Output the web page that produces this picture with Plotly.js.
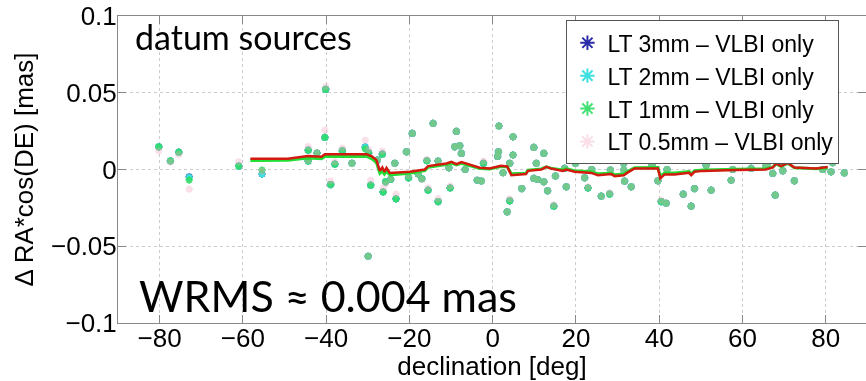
<!DOCTYPE html>
<html>
<head>
<meta charset="utf-8">
<script src="https://cdn.plot.ly/plotly-3.0.1.min.js"></script>
<style>html,body{margin:0;padding:0;background:#fff;overflow:hidden}</style>
</head>
<body>
<div id="chart" style="width:866px;height:381px"></div>
<script>
// declination [deg] of datum sources
const declination = [-80.2,-77.4,-75.4,-72.9,-61.0,-55.4,-44.3,-44.3,-42.2,-40.1,-40.3,-38.9,-37.9,-36.1,-33.8,-30.6,-29.8,-29.3,-29.9,-27.7,-26.5,-26.3,-25.7,-24.5,-23.5,-23.2,-20.7,-20.2,-19.3,-17.9,-17.0,-15.8,-15.5,-14.3,-13.1,-13.1,-10.2,-10.5,-8.7,-9.1,-7.9,-7.5,-6.6,-3.7,-2.7,-2.2,1.5,1.4,1.2,4.9,4.9,4.1,2.5,4.1,3.5,7.0,9.9,10.5,9.9,10.8,12.3,12.3,13.2,14.7,15.1,17.7,17.3,19.9,22.1,22.9,23.8,25.5,26.0,26.1,28.1,28.3,31.5,31.5,31.7,33.3,34.5,35.5,38.3,39.7,40.5,41.7,41.9,45.8,47.4,48.9,48.5,47.7,51.3,52.5,57.3,57.7,62.1,65.6,65.9,67.9,67.3,68.9,69.7,72.5,73.7,79.3,80.7,81.7,81.3,84.5];

// Δ RA*cos(DE) [mas] per solution
const lt3mm = [0.0148,0.0056,0.0113,-0.0048,0.0022,-0.0030,0.0126,0.0055,0.0108,0.0522,0.0209,-0.0098,0.0035,0.0122,0.0040,0.0147,0.0109,-0.0102,-0.0565,0.0061,0.0100,-0.0146,-0.0080,-0.0065,0.0040,-0.0191,0.0115,-0.0054,0.0235,-0.0030,-0.0060,0.0057,-0.0135,0.0300,0.0055,-0.0209,-0.0120,0.0011,0.0248,0.0148,0.0155,0.0105,0.0000,-0.0070,-0.0075,0.0040,0.0283,0.0115,0.0085,0.0213,0.0094,0.0040,-0.0021,-0.0204,-0.0276,-0.0124,0.0144,0.0040,-0.0058,-0.0065,-0.0080,0.0105,-0.0139,-0.0239,-0.0043,-0.0113,0.0007,0.0040,-0.0054,-0.0120,0.0000,0.0061,0.0075,-0.0174,-0.0160,-0.0004,0.0040,-0.0004,-0.0076,-0.0113,0.0060,0.0072,0.0028,-0.0074,-0.0209,-0.0220,0.0000,-0.0161,0.0068,0.0068,-0.0124,-0.0239,0.0028,-0.0135,-0.0070,0.0000,0.0007,0.0022,0.0030,-0.0167,-0.0026,0.0050,-0.0009,-0.0074,0.0065,0.0000,0.0061,0.0044,-0.0015,-0.0022];
const lt2mm = [0.0148,0.0056,0.0113,-0.0050,0.0022,-0.0030,0.0126,0.0055,0.0108,0.0522,0.0209,-0.0098,0.0035,0.0122,0.0040,0.0147,0.0109,-0.0102,-0.0565,0.0061,0.0100,-0.0146,-0.0080,-0.0065,0.0040,-0.0191,0.0115,-0.0054,0.0235,-0.0030,-0.0060,0.0057,-0.0135,0.0300,0.0055,-0.0209,-0.0120,0.0011,0.0248,0.0148,0.0155,0.0105,0.0000,-0.0070,-0.0075,0.0040,0.0283,0.0115,0.0085,0.0213,0.0094,0.0040,-0.0021,-0.0204,-0.0276,-0.0124,0.0144,0.0040,-0.0058,-0.0065,-0.0080,0.0105,-0.0139,-0.0239,-0.0043,-0.0113,0.0007,0.0040,-0.0054,-0.0120,0.0000,0.0061,0.0075,-0.0174,-0.0160,-0.0004,0.0040,-0.0004,-0.0076,-0.0113,0.0060,0.0072,0.0028,-0.0074,-0.0209,-0.0220,0.0000,-0.0161,0.0068,0.0068,-0.0124,-0.0239,0.0028,-0.0135,-0.0070,0.0000,0.0007,0.0022,0.0030,-0.0167,-0.0026,0.0050,-0.0009,-0.0074,0.0065,0.0000,0.0061,0.0044,-0.0015,-0.0022];
const lt1mm = [0.0148,0.0056,0.0113,-0.0069,0.0022,-0.0004,0.0126,0.0055,0.0108,0.0522,0.0209,-0.0098,0.0035,0.0122,0.0040,0.0135,0.0109,-0.0102,-0.0565,0.0061,0.0100,-0.0146,-0.0080,-0.0065,0.0040,-0.0191,0.0115,-0.0054,0.0235,-0.0030,-0.0060,0.0057,-0.0135,0.0300,0.0055,-0.0209,-0.0120,0.0011,0.0248,0.0148,0.0155,0.0105,0.0000,-0.0070,-0.0075,0.0040,0.0283,0.0115,0.0085,0.0213,0.0094,0.0040,-0.0021,-0.0204,-0.0276,-0.0124,0.0144,0.0040,-0.0058,-0.0065,-0.0080,0.0105,-0.0139,-0.0239,-0.0043,-0.0113,0.0007,0.0040,-0.0054,-0.0120,0.0000,0.0061,0.0075,-0.0174,-0.0160,-0.0004,0.0040,-0.0004,-0.0076,-0.0113,0.0060,0.0072,0.0028,-0.0074,-0.0209,-0.0220,0.0000,-0.0161,0.0068,0.0068,-0.0124,-0.0239,0.0028,-0.0135,-0.0070,0.0000,0.0007,0.0022,0.0030,-0.0167,-0.0026,0.0050,-0.0009,-0.0074,0.0065,0.0000,0.0061,0.0044,-0.0015,-0.0022];
const lt05mm = [0.0122,0.0050,0.0097,-0.0128,0.0050,-0.0010,0.0150,0.0060,0.0110,0.0540,0.0257,-0.0075,0.0050,0.0140,0.0040,0.0190,0.0130,-0.0070,-0.0565,0.0060,0.0120,-0.0120,-0.0095,-0.0060,0.0040,-0.0160,0.0115,-0.0040,0.0235,-0.0030,-0.0065,0.0065,-0.0120,0.0300,0.0055,-0.0190,-0.0108,0.0011,0.0248,0.0148,0.0155,0.0105,0.0000,-0.0070,-0.0075,0.0055,0.0283,0.0115,0.0085,0.0213,0.0094,0.0040,-0.0021,-0.0190,-0.0276,-0.0124,0.0144,0.0040,-0.0058,-0.0065,-0.0080,0.0105,-0.0139,-0.0230,-0.0043,-0.0113,0.0007,0.0040,-0.0054,-0.0113,0.0000,0.0061,0.0079,-0.0174,-0.0152,-0.0004,0.0040,-0.0004,-0.0076,-0.0113,0.0065,0.0072,0.0028,-0.0074,-0.0200,-0.0220,0.0000,-0.0161,0.0068,0.0068,-0.0124,-0.0239,0.0028,-0.0135,-0.0070,0.0000,0.0007,0.0022,0.0030,-0.0167,-0.0026,0.0050,-0.0009,-0.0074,0.0065,0.0000,0.0061,0.0044,-0.0015,-0.0022];

// running means
const meanDecl = [-58.2,-49.2,-44.4,-41.1,-40.3,-30.3,-29.0,-27.9,-27.1,-26.5,-26.0,-25.5,-24.7,-19.9,-16.3,-15.5,-11.1,-9.9,-8.7,-7.5,-3.1,-0.7,2.0,3.5,4.5,8.0,8.5,11.7,12.9,14.0,16.9,17.7,19.7,23.7,25.3,28.5,29.3,31.5,32.3,34.1,39.7,40.3,41.3,43.7,47.2,47.7,48.5,50.5,58.5,65.6,67.3,68.1,69.3,70.9,72.5,77.7,80.5];
const mean1mm = [0.0058,0.0060,0.0075,0.0070,0.0085,0.0085,0.0070,0.0045,-0.0025,-0.0010,-0.0030,-0.0010,-0.0035,-0.0025,-0.0008,0.0015,0.0032,0.0042,0.0030,0.0040,0.0006,0.0004,0.0020,0.0018,-0.0028,-0.0024,-0.0004,0.0004,0.0018,0.0009,-0.0003,0.0004,-0.0008,-0.0015,-0.0028,-0.0024,-0.0034,-0.0030,-0.0015,0.0012,0.0013,-0.0045,-0.0022,-0.0022,-0.0014,-0.0028,-0.0008,-0.0003,0.0002,0.0005,0.0015,0.0035,0.0020,0.0040,0.0012,0.0005,0.0012];
const mean05mm = [0.0070,0.0070,0.0088,0.0083,0.0100,0.0100,0.0085,0.0061,-0.0009,0.0013,-0.0015,0.0010,-0.0022,-0.0015,0.0000,0.0022,0.0039,0.0050,0.0035,0.0048,0.0011,0.0007,0.0024,0.0020,-0.0037,-0.0030,-0.0009,0.0000,0.0017,0.0007,-0.0009,0.0000,-0.0015,-0.0022,-0.0037,-0.0030,-0.0043,-0.0037,-0.0022,0.0007,0.0007,-0.0058,-0.0032,-0.0032,-0.0022,-0.0037,-0.0015,-0.0009,-0.0004,0.0000,0.0013,0.0039,0.0022,0.0043,0.0013,0.0007,0.0017];

const seriesNames = ['LT 3mm – VLBI only','LT 2mm – VLBI only','LT 1mm – VLBI only','LT 0.5mm – VLBI only'];
const seriesValues = [lt3mm, lt2mm, lt1mm, lt05mm];
const seriesColors = ['#2b2ba8','#3fe0e0','#30dd66','#f0a0bc'];
const seriesOpacity = [1, 1, 0.9, 0.35];

const traces = [];
seriesValues.forEach((vals, i) => {
  traces.push({
    type: 'scatter', mode: 'markers', name: seriesNames[i],
    x: declination, y: vals,
    opacity: seriesOpacity[i],
    marker: {symbol: 'asterisk-open', size: 6, color: seriesColors[i], line: {width: 2, color: seriesColors[i]}}
  });
});
traces.push({type:'scatter', mode:'lines', x: meanDecl, y: mean1mm, showlegend:false, hoverinfo:'skip',
  line:{color:'#22dd33', width:3}});
traces.push({type:'scatter', mode:'lines', x: meanDecl, y: mean05mm, showlegend:false, hoverinfo:'skip',
  line:{color:'#d41a10', width:2.5}});

const axisFont = {family: 'Liberation Sans, Arial, sans-serif', size: 26, color: '#000'};

const layout = {
  width: 866, height: 381,
  margin: {l: 118, r: 0, t: 16, b: 58.3, pad: 0},
  paper_bgcolor: '#fff', plot_bgcolor: '#fff',
  showlegend: true,
  font: axisFont,
  xaxis: {
    range: [-90, 89.7], tickvals: [-80,-60,-40,-20,0,20,40,60,80],
    ticks: 'inside', ticklen: 8, tickcolor: '#888', mirror: 'ticks',
    showline: true, linecolor: '#888', linewidth: 1,
    showgrid: true, gridcolor: '#cccccc', griddash: 'dot', gridwidth: 1,
    zeroline: false, tickfont: axisFont, ticklabelstandoff: -8,
    title: {text: 'declination [deg]', font: axisFont, standoff: 10}
  },
  yaxis: {
    range: [-0.1, 0.1], tickvals: [-0.1,-0.05,0,0.05,0.1],
    ticktext: ['−0.1','−0.05','0','0.05','0.1'],
    ticks: 'inside', ticklen: 8, tickcolor: '#888', mirror: 'ticks',
    showline: true, linecolor: '#888', linewidth: 1,
    showgrid: true, gridcolor: '#cccccc', griddash: 'dot', gridwidth: 1,
    zeroline: false, tickfont: axisFont, ticklabelstandoff: -5,
    title: {text: 'Δ RA*cos(DE) [mas]', font: axisFont, standoff: 9}
  },
  legend: {
    x: 0.782, y: 0.986, xanchor: 'center', yanchor: 'top',
    bgcolor: '#fff', bordercolor: '#555', borderwidth: 1,
    font: {family: 'Liberation Sans, Arial, sans-serif', size: 23, color: '#000'},
    itemsizing: 'constant', tracegroupgap: 0
  },
  annotations: [
    {xref:'paper', yref:'paper', x: 0.02, y: 0.932, xanchor:'left', yanchor:'middle', showarrow:false,
     text:'datum sources', font:{family:'Lato, Carlito, sans-serif', size:34, color:'#000'}},
    {xref:'paper', yref:'paper', x: 0.025, y: 0.09, xanchor:'left', yanchor:'middle', showarrow:false,
     text:'WRMS ≈ 0.004 mas', font:{family:'Lato, Carlito, sans-serif', size:43, color:'#000'}}
  ]
};

Plotly.newPlot('chart', traces, layout, {staticPlot: true, displayModeBar: false});
</script>
</body>
</html>
